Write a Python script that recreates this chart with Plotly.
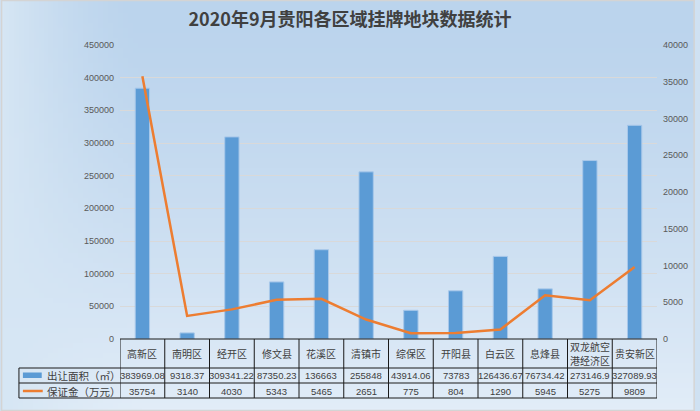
import base64, struct, zlib
import plotly.graph_objects as go

# ---------------- data ----------------
categories = ["高新区", "南明区", "经开区", "修文县", "花溪区", "清镇市", "综保区",
              "开阳县", "白云区", "息烽县", "双龙航空港经济区", "贵安新区"]
header_lines = [["高新区"], ["南明区"], ["经开区"], ["修文县"], ["花溪区"], ["清镇市"],
                ["综保区"], ["开阳县"], ["白云区"], ["息烽县"], ["双龙航空", "港经济区"],
                ["贵安新区"]]
area_values = [383969.08, 9318.37, 309341.22, 87350.23, 136663, 255848, 43914.06,
               73783, 126436.67, 76734.42, 273146.9, 327089.93]
deposit_values = [35754, 3140, 4030, 5343, 5465, 2651, 775, 804, 1290, 5945, 5275, 9809]
series_names = ["出让面积（㎡）", "保证金（万元）"]
title_text = "2020年9月贵阳各区域挂牌地块数据统计"

# ---------------- geometry ----------------
W, H = 700, 411
ML, MR, MT, MB = 120, 38, 45, 72
PW, PH = W - ML - MR, H - MT - MB


def pxx(px):
    return (px - ML) / PW


def pxy(py):
    return (H - MB - py) / PH


def fmt(v):
    return ("%f" % v).rstrip("0").rstrip(".")


# ---------------- background gradient png ----------------
def make_png(w, h, func):
    rows = []
    for j in range(h):
        row = bytearray([0])
        for i in range(w):
            r, g, b = func(i / (w - 1), j / (h - 1))
            row += bytes([int(r), int(g), int(b)])
        rows.append(bytes(row))
    raw = b"".join(rows)

    def chunk(t, d):
        c = struct.pack(">I", len(d)) + t + d
        return c + struct.pack(">I", zlib.crc32(t + d) & 0xffffffff)

    png = b"\x89PNG\r\n\x1a\n"
    png += chunk(b"IHDR", struct.pack(">IIBBBBB", w, h, 8, 2, 0, 0, 0))
    png += chunk(b"IDAT", zlib.compress(raw, 9))
    png += chunk(b"IEND", b"")
    return "data:image/png;base64," + base64.b64encode(png).decode()


top = (0xbb, 0xd4, 0xed)
bot = (0xe2, 0xed, 0xf8)
side = (0xd6, 0xe6, 0xf4)


def grad(x, y):
    t = y ** 1.4
    c = [top[k] + (bot[k] - top[k]) * t for k in range(3)]
    if x < 0.2:
        s = (1 - x / 0.2) ** 1.5
        c = [c[k] + (side[k] - c[k]) * s for k in range(3)]
    return c


bg = make_png(140, 82, grad)

# ---------------- figure ----------------
fig = go.Figure()
fig.add_trace(go.Bar(
    x=categories, y=area_values, name=series_names[0], width=0.32,
    marker=dict(color="#5b9bd5", line=dict(color="#a8c8ea", width=1)),
    yaxis="y",
))
fig.add_trace(go.Scatter(
    x=categories, y=deposit_values, name=series_names[1], mode="lines",
    line=dict(color="#ed7d31", width=2.5), yaxis="y2",
))

tick_font = dict(family="Liberation Sans, Arial, sans-serif", size=9, color="#595959")
fig.update_layout(
    width=W, height=H,
    margin=dict(l=ML, r=MR, t=MT, b=MB, pad=0),
    paper_bgcolor="#cfe1f2",
    plot_bgcolor="rgba(0,0,0,0)",
    showlegend=False,
    title=dict(text="<b>" + title_text + "</b>", x=0.5, xanchor="center",
               y=1 - 20 / H, yanchor="middle",
               font=dict(family="Noto Sans CJK SC, sans-serif", size=18, color="#404040")),
    xaxis=dict(type="category", range=[-0.5, len(categories) - 0.5],
               showticklabels=False, showgrid=False, zeroline=False, showline=False, ticks=""),
    yaxis=dict(range=[0, 450000], dtick=50000, tickformat="d", showgrid=True,
               gridcolor="#d9d9d9", gridwidth=1, zeroline=False, showline=False, ticks="",
               tickfont=tick_font, ticklabelstandoff=5),
    yaxis2=dict(range=[0, 40000], dtick=5000, tickformat="d", overlaying="y", side="right",
                showgrid=False, zeroline=False, showline=False, ticks="",
                tickfont=tick_font, ticklabelstandoff=5),
    images=[dict(source=bg, xref="paper", yref="paper", x=pxx(0), y=pxy(0),
                 sizex=W / PW, sizey=H / PH, sizing="stretch",
                 xanchor="left", yanchor="top", layer="below")],
)

# ---------------- data table ----------------
line_style = dict(color="#1a1a1a", width=1)
y_head_top, y_r1, y_r2, y_bot = pxy(339), pxy(368), pxy(383), pxy(398)
x_left = pxx(18)
n = len(categories)
shapes = []
shapes.append(dict(type="line", xref="x", yref="paper", x0=-0.5, x1=n - 0.5,
                   y0=y_head_top, y1=y_head_top, line=line_style, layer="above"))
for yy in (y_r1, y_r2, y_bot):
    shapes.append(dict(type="line", xref="paper", yref="paper", x0=x_left, x1=1,
                       y0=yy, y1=yy, line=line_style, layer="above"))
for i in range(n + 1):
    shapes.append(dict(type="line", xref="x", yref="paper", x0=i - 0.5, x1=i - 0.5,
                       y0=y_head_top, y1=y_bot, line=line_style, layer="above"))
shapes.append(dict(type="line", xref="paper", yref="paper", x0=x_left, x1=x_left,
                   y0=y_r1, y1=y_bot, line=line_style, layer="above"))
# legend keys
shapes.append(dict(type="rect", xref="paper", yref="paper", x0=pxx(22), x1=pxx(41),
                   y0=pxy(378), y1=pxy(372.5), fillcolor="#5b9bd5",
                   line=dict(width=0), layer="above"))
shapes.append(dict(type="line", xref="paper", yref="paper", x0=pxx(22), x1=pxx(42),
                   y0=pxy(391), y1=pxy(391), line=dict(color="#ed7d31", width=2.5),
                   layer="above"))
# outer border
shapes.append(dict(type="rect", xref="paper", yref="paper", x0=pxx(0.5), x1=pxx(W - 0.5),
                   y0=pxy(H - 0.5), y1=pxy(0.5), line=dict(color="#d4d4d4", width=1.5),
                   layer="above"))

table_font = dict(family="Liberation Sans, Arial, sans-serif", size=9.5, color="#404040")
cjk_font = dict(family="Noto Sans CJK SC, sans-serif", size=10, color="#404040")
ann = []
for i in range(n):
    lines = header_lines[i]
    if len(lines) == 1:
        ys = [353.5]
    else:
        ys = [346.5, 360.5]
    for txt, yy in zip(lines, ys):
        ann.append(dict(x=i, y=pxy(yy), xref="x", yref="paper", text=txt,
                        showarrow=False, font=cjk_font, yanchor="middle", xanchor="center"))
    ann.append(dict(x=i, y=pxy(375.5), xref="x", yref="paper", text=fmt(area_values[i]),
                    showarrow=False, font=table_font, yanchor="middle", xanchor="center"))
    ann.append(dict(x=i, y=pxy(391), xref="x", yref="paper", text=fmt(deposit_values[i]),
                    showarrow=False, font=table_font, yanchor="middle", xanchor="center"))
legend_font = dict(family="Noto Sans CJK SC, sans-serif", size=10.5, color="#404040")
ann.append(dict(x=pxx(44), y=pxy(375.5), xref="paper", yref="paper", text=series_names[0],
                showarrow=False, font=legend_font, xanchor="left", yanchor="middle"))
ann.append(dict(x=pxx(44), y=pxy(391), xref="paper", yref="paper", text=series_names[1],
                showarrow=False, font=legend_font, xanchor="left", yanchor="middle"))

fig.update_layout(shapes=shapes, annotations=ann)
fig.write_html("out.html")
